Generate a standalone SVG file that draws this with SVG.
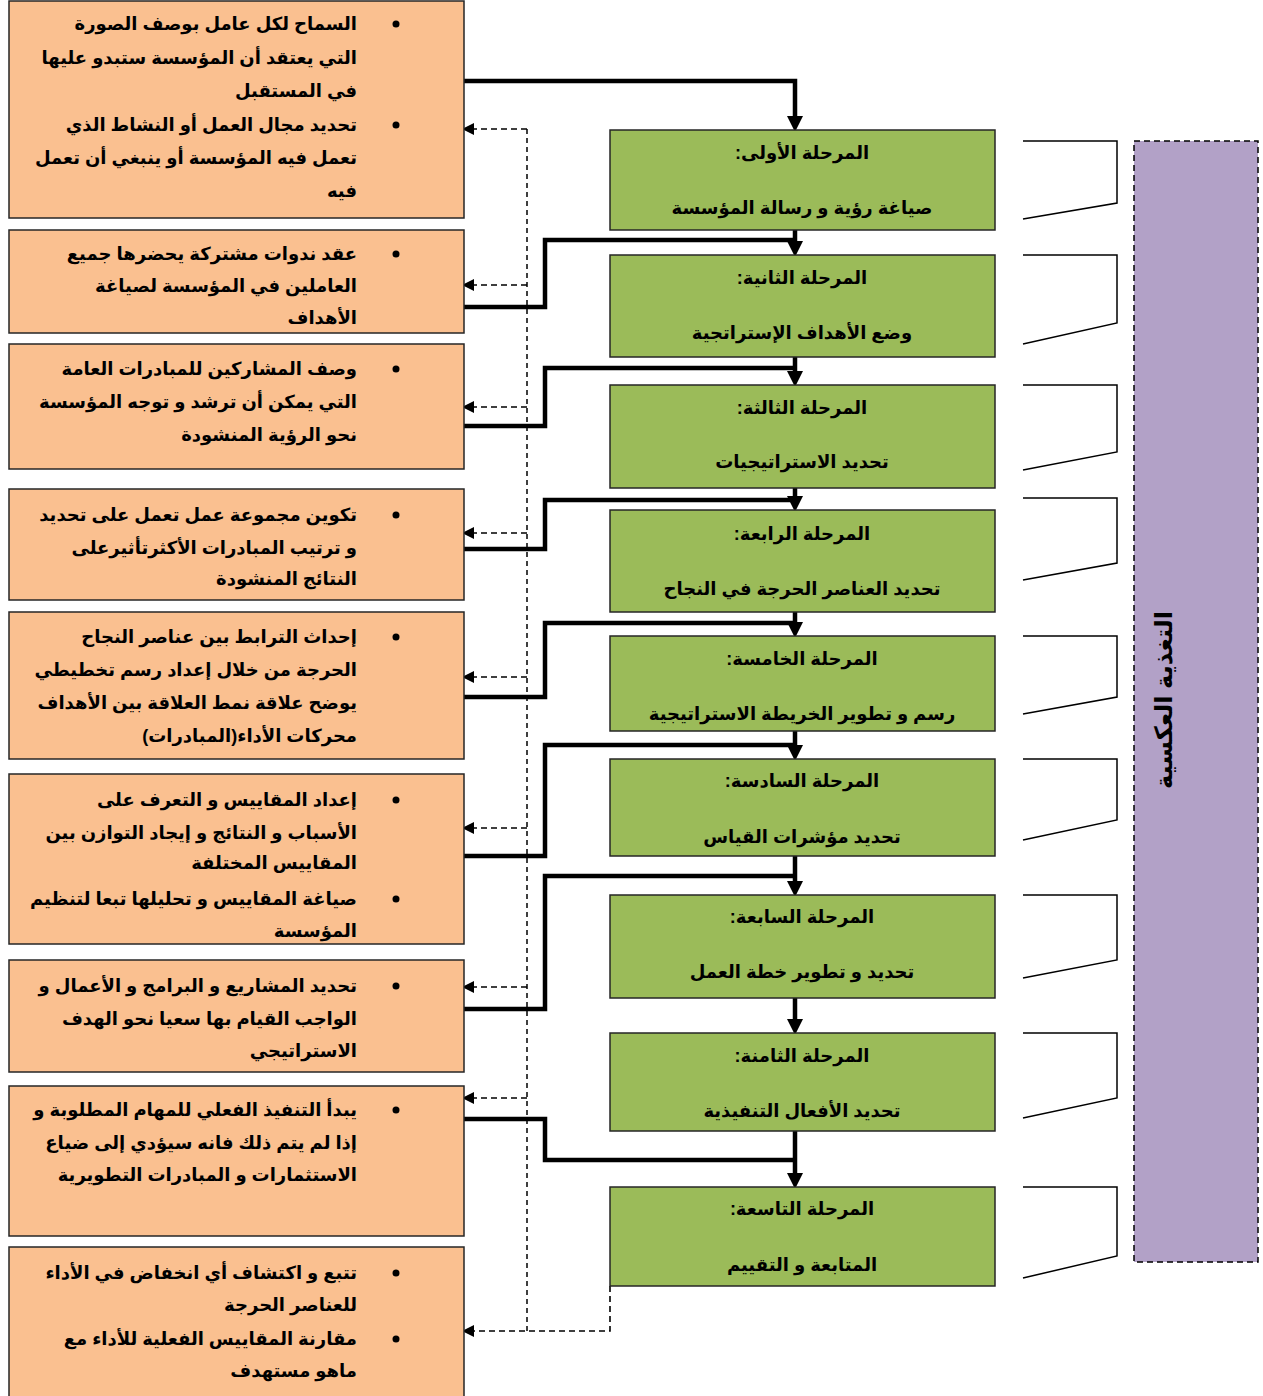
<svg xmlns="http://www.w3.org/2000/svg" width="1263" height="1396" viewBox="0 0 1263 1396">
<style>
.lb{fill:#fac090;stroke:#262626;stroke-width:1.5}
.gb{fill:#9bbb59;stroke:#262626;stroke-width:1.5}
.t{font-family:'Liberation Sans','DejaVu Sans',sans-serif;font-weight:bold;font-size:18px;fill:#000;direction:rtl;unicode-bidi:embed}
.lt{text-anchor:start}
.ct{text-anchor:middle}
.thick{fill:none;stroke:#000;stroke-width:4.5;stroke-linejoin:miter}
.dash{fill:none;stroke:#000;stroke-width:1.6;stroke-dasharray:6,4}
.vdash{fill:none;stroke:#000;stroke-width:1.5;stroke-dasharray:5,4}
.br{fill:none;stroke:#000;stroke-width:1.5}
</style>
<defs>
<marker id="ah" markerUnits="userSpaceOnUse" markerWidth="16" markerHeight="16" viewBox="0 0 14 14" refX="0" refY="7" orient="auto"><path d="M0,0 L14,7 L0,14 z" fill="#000"/></marker>
<marker id="ad" markerUnits="userSpaceOnUse" markerWidth="12" markerHeight="12" viewBox="0 0 10 10" refX="0" refY="5" orient="auto"><path d="M0,0 L10,5 L0,10 z" fill="#000"/></marker>
<clipPath id="c6"><rect x="9" y="774" width="455" height="169"/></clipPath>
</defs>
<rect width="1263" height="1396" fill="#fff"/>

<g id="connectors">
<path class="vdash" d="M527,129 V1331"/>
<path class="dash" d="M527,129 H474" marker-end="url(#ad)"/>
<path class="dash" d="M527,285 H474" marker-end="url(#ad)"/>
<path class="dash" d="M527,407 H474" marker-end="url(#ad)"/>
<path class="dash" d="M527,533 H474" marker-end="url(#ad)"/>
<path class="dash" d="M527,677 H474" marker-end="url(#ad)"/>
<path class="dash" d="M527,828 H474" marker-end="url(#ad)"/>
<path class="dash" d="M527,987 H474" marker-end="url(#ad)"/>
<path class="dash" d="M527,1098 H474" marker-end="url(#ad)"/>
<path class="dash" d="M610,1286 V1331 H474" marker-end="url(#ad)"/>

<path class="thick" d="M464,81 H795 V116" marker-end="url(#ah)"/>
<path class="thick" d="M464,307 H545 V240 H795"/>
<path class="thick" d="M795,230 V241" marker-end="url(#ah)"/>
<path class="thick" d="M464,426 H545 V368 H795"/>
<path class="thick" d="M795,357 V371" marker-end="url(#ah)"/>
<path class="thick" d="M464,549 H545 V500 H795"/>
<path class="thick" d="M795,488 V496" marker-end="url(#ah)"/>
<path class="thick" d="M464,697 H545 V623 H795"/>
<path class="thick" d="M795,612 V622" marker-end="url(#ah)"/>
<path class="thick" d="M464,856 H545 V745 H795"/>
<path class="thick" d="M795,731 V745" marker-end="url(#ah)"/>
<path class="thick" d="M464,1009 H545 V876 H795"/>
<path class="thick" d="M795,856 V881" marker-end="url(#ah)"/>
<path class="thick" d="M795,998 V1019" marker-end="url(#ah)"/>
<path class="thick" d="M464,1119 H545 V1160 H795"/>
<path class="thick" d="M795,1131 V1173" marker-end="url(#ah)"/>

<path class="br" d="M1023,141 H1117 V203 L1023,219"/>
<path class="br" d="M1023,255 H1117 V323 L1023,344"/>
<path class="br" d="M1023,385 H1117 V452 L1023,470"/>
<path class="br" d="M1023,498 H1117 V563 L1023,580"/>
<path class="br" d="M1023,636 H1117 V697 L1023,714"/>
<path class="br" d="M1023,759 H1117 V820 L1023,840"/>
<path class="br" d="M1023,895 H1117 V960 L1023,978"/>
<path class="br" d="M1023,1033 H1117 V1098 L1023,1118"/>
<path class="br" d="M1023,1187 H1117 V1256 L1023,1278"/>
</g>

<g id="feedback">
<rect x="1134" y="141" width="124" height="1121" fill="#b2a1c7" stroke="#000" stroke-width="1.5" stroke-dasharray="6,4"/>
<text class="t ct" transform="translate(1172,700) rotate(-90)" style="font-size:24px">التغذية العكسية</text>
</g>

<g id="left1">
<rect class="lb" x="9" y="1" width="455" height="217"/>
<circle cx="396" cy="24" r="3.5"/><circle cx="396" cy="125" r="3.5"/>
<text class="t lt" x="357" y="30">السماح لكل عامل بوصف الصورة</text>
<text class="t lt" x="357" y="64">التي يعتقد أن المؤسسة ستبدو عليها</text>
<text class="t lt" x="357" y="97">في المستقبل</text>
<text class="t lt" x="357" y="131">تحديد مجال العمل أو النشاط الذي</text>
<text class="t lt" x="357" y="164">تعمل فيه المؤسسة أو ينبغي أن تعمل</text>
<text class="t lt" x="357" y="197">فيه</text>
</g>
<g id="left2">
<rect class="lb" x="9" y="230" width="455" height="103"/>
<circle cx="396" cy="254" r="3.5"/>
<text class="t lt" x="357" y="260">عقد ندوات مشتركة يحضرها جميع</text>
<text class="t lt" x="357" y="292">العاملين في المؤسسة لصياغة</text>
<text class="t lt" x="357" y="324">الأهداف</text>
</g>
<g id="left3">
<rect class="lb" x="9" y="344" width="455" height="125"/>
<circle cx="396" cy="369" r="3.5"/>
<text class="t lt" x="357" y="375">وصف المشاركين للمبادرات العامة</text>
<text class="t lt" x="357" y="408">التي يمكن أن ترشد و توجه المؤسسة</text>
<text class="t lt" x="357" y="441">نحو الرؤية المنشودة</text>
</g>
<g id="left4">
<rect class="lb" x="9" y="489" width="455" height="111"/>
<circle cx="396" cy="515" r="3.5"/>
<text class="t lt" x="357" y="521">تكوين مجموعة عمل تعمل على تحديد</text>
<text class="t lt" x="357" y="554">و ترتيب المبادرات الأكثرتأثيرعلى</text>
<text class="t lt" x="357" y="585">النتائج المنشودة</text>
</g>
<g id="left5">
<rect class="lb" x="9" y="612" width="455" height="147"/>
<circle cx="396" cy="637" r="3.5"/>
<text class="t lt" x="357" y="643">إحداث الترابط بين عناصر النجاح</text>
<text class="t lt" x="357" y="676">الحرجة من خلال إعداد رسم تخطيطي</text>
<text class="t lt" x="357" y="709">يوضح علاقة نمط العلاقة بين الأهداف</text>
<text class="t lt" x="357" y="742">محركات الأداء(المبادرات)</text>
</g>
<g id="left6">
<rect class="lb" x="9" y="774" width="455" height="170"/>
<circle cx="396" cy="800" r="3.5"/><circle cx="396" cy="899" r="3.5"/>
<text class="t lt" x="357" y="806">إعداد المقاييس و التعرف على</text>
<text class="t lt" x="357" y="839">الأسباب و النتائج و إيجاد التوازن بين</text>
<text class="t lt" x="357" y="869">المقاييس المختلفة</text>
<text class="t lt" x="357" y="905">صياغة المقاييس و تحليلها تبعا لتنظيم</text>
<text class="t lt" x="357" y="937" clip-path="url(#c6)">المؤسسة</text>
</g>
<g id="left7">
<rect class="lb" x="9" y="960" width="455" height="112"/>
<circle cx="396" cy="986" r="3.5"/>
<text class="t lt" x="357" y="992">تحديد المشاريع و البرامج و الأعمال و</text>
<text class="t lt" x="357" y="1025">الواجب القيام بها سعيا نحو الهدف</text>
<text class="t lt" x="357" y="1057">الاستراتيجي</text>
</g>
<g id="left8">
<rect class="lb" x="9" y="1086" width="455" height="150"/>
<circle cx="396" cy="1110" r="3.5"/>
<text class="t lt" x="357" y="1116">يبدأ التنفيذ الفعلي للمهام المطلوبة و</text>
<text class="t lt" x="357" y="1149">إذا لم يتم ذلك فانه سيؤدي إلى ضياع</text>
<text class="t lt" x="357" y="1181">الاستثمارات و المبادرات التطويرية</text>
</g>
<g id="left9">
<rect class="lb" x="9" y="1247" width="455" height="160"/>
<circle cx="396" cy="1273" r="3.5"/><circle cx="396" cy="1339" r="3.5"/>
<text class="t lt" x="357" y="1279">تتبع و اكتشاف أي انخفاض في الأداء</text>
<text class="t lt" x="357" y="1311">للعناصر الحرجة</text>
<text class="t lt" x="357" y="1345">مقارنة المقاييس الفعلية للأداء مع</text>
<text class="t lt" x="357" y="1377">ماهو مستهدف</text>
</g>

<g id="stage1">
<rect class="gb" x="610" y="130" width="385" height="100"/>
<text class="t ct" x="802" y="159">المرحلة الأولى:</text>
<text class="t ct" x="802" y="214">صياغة رؤية و رسالة المؤسسة</text>
</g>
<g id="stage2">
<rect class="gb" x="610" y="255" width="385" height="102"/>
<text class="t ct" x="802" y="284">المرحلة الثانية:</text>
<text class="t ct" x="802" y="339">وضع الأهداف الإستراتجية</text>
</g>
<g id="stage3">
<rect class="gb" x="610" y="385" width="385" height="103"/>
<text class="t ct" x="802" y="414">المرحلة الثالثة:</text>
<text class="t ct" x="802" y="468">تحديد الاستراتيجيات</text>
</g>
<g id="stage4">
<rect class="gb" x="610" y="510" width="385" height="102"/>
<text class="t ct" x="802" y="540">المرحلة الرابعة:</text>
<text class="t ct" x="802" y="595">تحديد العناصر الحرجة في النجاح</text>
</g>
<g id="stage5">
<rect class="gb" x="610" y="636" width="385" height="95"/>
<text class="t ct" x="802" y="665">المرحلة الخامسة:</text>
<text class="t ct" x="802" y="720">رسم و تطوير الخريطة الاستراتيجية</text>
</g>
<g id="stage6">
<rect class="gb" x="610" y="759" width="385" height="97"/>
<text class="t ct" x="802" y="787">المرحلة السادسة:</text>
<text class="t ct" x="802" y="843">تحديد مؤشرات القياس</text>
</g>
<g id="stage7">
<rect class="gb" x="610" y="895" width="385" height="103"/>
<text class="t ct" x="802" y="923">المرحلة السابعة:</text>
<text class="t ct" x="802" y="978">تحديد و تطوير خطة العمل</text>
</g>
<g id="stage8">
<rect class="gb" x="610" y="1033" width="385" height="98"/>
<text class="t ct" x="802" y="1062">المرحلة الثامنة:</text>
<text class="t ct" x="802" y="1117">تحديد الأفعال التنفيذية</text>
</g>
<g id="stage9">
<rect class="gb" x="610" y="1187" width="385" height="99"/>
<text class="t ct" x="802" y="1215">المرحلة التاسعة:</text>
<text class="t ct" x="802" y="1271">المتابعة و التقييم</text>
</g>
</svg>
